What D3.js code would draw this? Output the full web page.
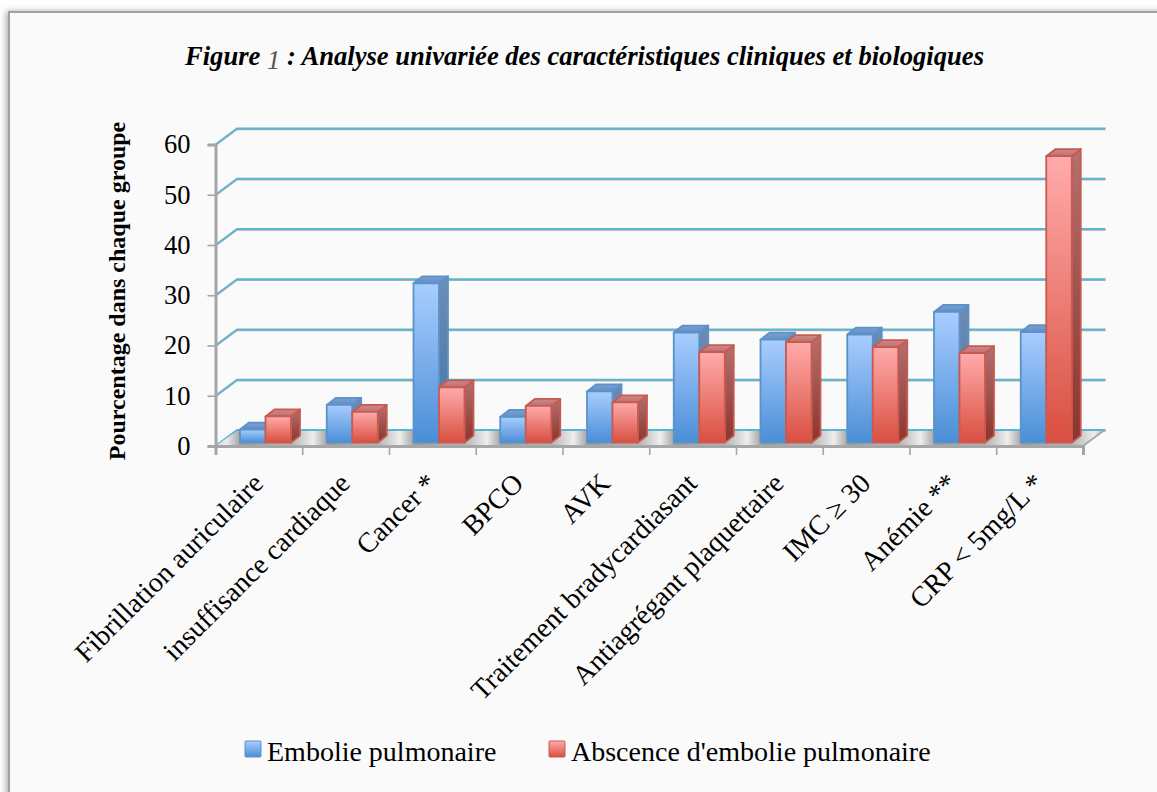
<!DOCTYPE html>
<html>
<head>
<meta charset="utf-8">
<script src="https://cdn.jsdelivr.net/npm/d3@7"></script>
<style>
  html, body { margin: 0; padding: 0; background: #fff; overflow: hidden; }
  svg { display: block; }
  text { font-family: "Liberation Serif", serif; fill: #000; }
</style>
</head>
<body>
<svg id="chart"></svg>
<script>
"use strict"

const WIDTH = 1157;
const HEIGHT = 792;

const CATEGORIES = [
    "Fibrillation auriculaire",
    "insuffisance cardiaque",
    "Cancer *",
    "BPCO",
    "AVK",
    "Traitement bradycardiasant",
    "Antiagrégant plaquettaire",
    "IMC ≥ 30",
    "Anémie **",
    "CRP < 5mg/L *"
];
const EMBOLIE = [2.6, 7.5, 31.7, 5.1, 10.2, 21.9, 20.5, 21.5, 26, 22];
const ABSENCE = [5.2, 6.1, 11, 7.3, 8, 18, 20, 19, 17.8, 57];
const Y_TICKS = [0, 10, 20, 30, 40, 50, 60];
const SERIES_NAMES = ["Embolie pulmonaire", "Abscence d'embolie pulmonaire"];

// 3d look of the plot
const PLOT = { left: 215.5, right: 1083, top: 144.5, bottom: 446 };
const WALL = { dx: 21.5, dy: -16 };
const BAR_BASE = 3.4;      // bars stand a bit inside the floor
const BAR_DEPTH = { dx: 9, dy: -7 };
const BAR_OFFSET = 24.5;
const BAR_WIDTH = 25.5;

const svg = d3.select("#chart").attr("width", WIDTH).attr("height", HEIGHT);
const defs = svg.append("defs");

function addGradient(id, top, bottom) {
    const g = defs.append("linearGradient").attr("id", id)
        .attr("x1", 0).attr("x2", 0).attr("y1", 0).attr("y2", 1);
    g.append("stop").attr("offset", 0).attr("stop-color", top);
    g.append("stop").attr("offset", 1).attr("stop-color", bottom);
}
addGradient("blueFront", "#a9cdff", "#4a8ed6");
addGradient("blueSide", "#6f8cb4", "#44749f");
addGradient("blueTop", "#7f9fce", "#5f8fc8");
addGradient("redFront", "#ffabab", "#d94f40");
addGradient("redSide", "#b37070", "#8c342b");
addGradient("redTop", "#cc8888", "#c07070");

// Floor shine repeats once per category
const floorGrad = defs.append("linearGradient").attr("id", "floorGrad")
    .attr("gradientUnits", "userSpaceOnUse").attr("spreadMethod", "repeat")
    .attr("x1", 183).attr("x2", 269.8).attr("y1", 0).attr("y2", 0);
[[0, "#b0b0b0"], [0.25, "#b4b4b4"], [0.5, "#eeeeee"], [0.68, "#9a9a9a"], [1, "#b0b0b0"]].forEach(([o, c]) => {
    floorGrad.append("stop").attr("offset", o).attr("stop-color", c);
});

defs.append("filter").attr("id", "frameShadow")
    .attr("x", "-2%").attr("y", "-2%").attr("width", "104%").attr("height", "104%")
    .append("feDropShadow").attr("dx", -2).attr("dy", 0)
    .attr("stdDeviation", 3).attr("flood-color", "#777").attr("flood-opacity", 0.6);

// Frame runs off the right and bottom of the picture
svg.append("rect")
    .attr("x", 9).attr("y", 12).attr("width", WIDTH + 20).attr("height", HEIGHT + 20)
    .attr("fill", "#fafafa").attr("stroke", "#a0a0a0").attr("stroke-width", 2)
    .attr("filter", "url(#frameShadow)");

// Title
const title = svg.append("text")
    .attr("x", 584.5).attr("y", 65).attr("text-anchor", "middle")
    .attr("font-size", 26.6).attr("font-weight", "bold").attr("font-style", "italic");
title.append("tspan").text("Figure ");
title.append("tspan").text("1").attr("font-weight", "normal").attr("dy", 4).style("fill", "#555");
title.append("tspan").text(" : Analyse univariée des caractéristiques cliniques et biologiques").attr("dy", -4);

// Scales
const xScale = d3.scaleBand(CATEGORIES, [PLOT.left, PLOT.right]);
const edgeScale = d3.scaleLinear([0, CATEGORIES.length], [PLOT.left, PLOT.right]);
const yScale = d3.scaleLinear([0, 60], [PLOT.bottom, PLOT.top]);
const seriesScale = d3.scaleBand([0, 1], [0, BAR_WIDTH * 2]);

// Back wall gridlines
const grid = svg.append("g").attr("fill", "none");
const gridPath = d => {
    const y = yScale(d);
    return `M${PLOT.left},${y}L${PLOT.left + WALL.dx},${y + WALL.dy}L${PLOT.right + WALL.dx + 1},${y + WALL.dy}`;
};
grid.selectAll("path.shade").data(Y_TICKS).join("path")
    .attr("class", "shade")
    .attr("d", gridPath)
    .attr("transform", "translate(0,1)")
    .attr("stroke", "#b0b0b0").attr("stroke-width", 1.5);
grid.selectAll("path.line").data(Y_TICKS).join("path")
    .attr("class", "line")
    .attr("d", gridPath)
    .attr("stroke", "#5cb5d0").attr("stroke-width", 1.8);

// Floor
svg.append("polygon")
    .attr("points", [
        [PLOT.left, PLOT.bottom],
        [PLOT.left + WALL.dx, PLOT.bottom + WALL.dy + 1],
        [PLOT.right + WALL.dx, PLOT.bottom + WALL.dy + 1],
        [PLOT.right, PLOT.bottom]
    ].join(" "))
    .attr("fill", "url(#floorGrad)");
svg.append("line")
    .attr("x1", PLOT.right).attr("y1", PLOT.bottom)
    .attr("x2", PLOT.right + WALL.dx).attr("y2", PLOT.bottom + WALL.dy)
    .attr("stroke", "#a6a6a6").attr("stroke-width", 1.8);
svg.append("line")
    .attr("x1", PLOT.right + WALL.dx - 1).attr("y1", PLOT.bottom + WALL.dy + 0.5)
    .attr("x2", PLOT.right + WALL.dx + 1).attr("y2", PLOT.bottom + WALL.dy + 0.5)
    .attr("stroke", "#a6a6a6").attr("stroke-width", 1.5);

// Axes
const yAxis = svg.append("g")
    .attr("transform", `translate(${PLOT.left},0)`)
    .call(d3.axisLeft(yScale).tickValues(Y_TICKS).tickSize(8).tickPadding(17));
const xAxis = svg.append("g")
    .attr("transform", `translate(0,${PLOT.bottom})`)
    .call(d3.axisBottom(edgeScale).tickValues(d3.range(CATEGORIES.length + 1)).tickSize(9).tickFormat(""));
svg.selectAll(".domain").attr("stroke", "#a6a6a6").attr("stroke-width", 3);
svg.selectAll(".tick line").attr("stroke", "#a6a6a6").attr("stroke-width", 1.6);
yAxis.selectAll("text").attr("font-size", 26.5).attr("font-family", "Liberation Serif");

// Y axis title
svg.append("text")
    .attr("transform", "translate(125,291) rotate(-90)")
    .attr("text-anchor", "middle")
    .attr("font-size", 24).attr("font-weight", "bold")
    .text("Pourcentage dans chaque groupe");

// Bars
function drawBar(g, i, s, value, color) {
    const x0 = xScale(CATEGORIES[i]) + BAR_OFFSET + seriesScale(s);
    const x1 = x0 + seriesScale.bandwidth();
    const y0 = yScale(0) - BAR_BASE;
    const y1 = yScale(value) - BAR_BASE;
    const dx = BAR_DEPTH.dx, dy = BAR_DEPTH.dy;
    const stroke = color === "blue" ? "#5a93c8" : "#c95a50";
    const faces = [
        [`${color}Side`, [[x1, y1], [x1 + dx, y1 + dy], [x1 + dx, y0 + dy], [x1, y0]]],
        [`${color}Top`, [[x0, y1], [x0 + dx, y1 + dy], [x1 + dx, y1 + dy], [x1, y1]]],
        [`${color}Front`, [[x0, y0], [x0, y1], [x1, y1], [x1, y0]]]
    ];
    faces.forEach(([grad, pts]) => {
        g.append("polygon")
            .attr("points", pts.join(" "))
            .attr("fill", `url(#${grad})`)
            .attr("stroke", stroke)
            .attr("stroke-width", 1.8)
            .attr("stroke-linejoin", "round");
    });
}

const bars = svg.append("g");
CATEGORIES.forEach((c, i) => {
    drawBar(bars, i, 0, EMBOLIE[i], "blue");
    drawBar(bars, i, 1, ABSENCE[i], "red");
});

// Rotated category labels
svg.append("g").selectAll("text").data(CATEGORIES).join("text")
    .attr("transform", d => `translate(${xScale(d) + xScale.bandwidth() / 2 + 6},485) rotate(-45)`)
    .attr("text-anchor", "end")
    .attr("font-size", 28)
    .text(d => d);

// Legend
const legendX = [245, 549];
const legend = svg.append("g");
SERIES_NAMES.forEach((name, i) => {
    legend.append("rect")
        .attr("x", legendX[i]).attr("y", 741).attr("width", 16).attr("height", 16)
        .attr("rx", 1)
        .attr("fill", i === 0 ? "url(#blueFront)" : "url(#redFront)")
        .attr("stroke", i === 0 ? "#5a93c8" : "#c95a50");
    legend.append("text")
        .attr("x", legendX[i] + 22).attr("y", 761)
        .attr("font-size", 28)
        .text(name);
});
</script>
</body>
</html>
